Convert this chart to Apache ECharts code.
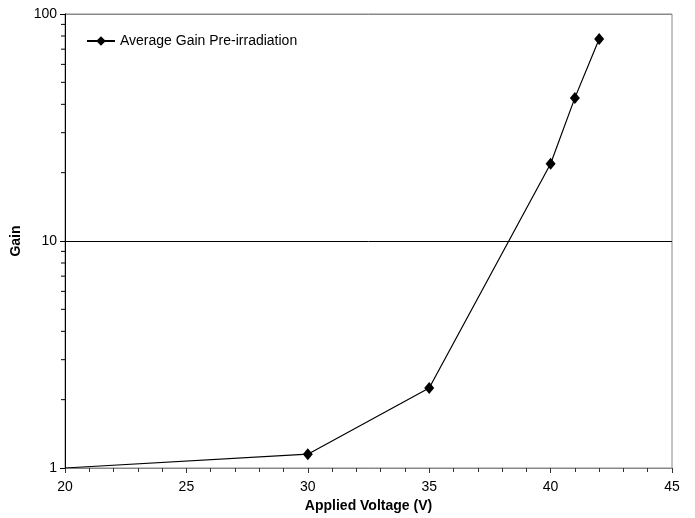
<!DOCTYPE html>
<html>
<head>
<meta charset="utf-8">
<script src="https://cdn.jsdelivr.net/npm/echarts@6/dist/echarts.min.js"></script>
<style>html,body{margin:0;padding:0;background:#fff;}#c{width:695px;height:518px;}</style>
</head>
<body>
<div id="c"></div>
<script>
var seriesName = 'Average Gain Pre-irradiation';
var voltage = [20, 30, 35, 40, 41, 42];
var gain = [1.0, 1.15, 2.25, 21.9, 42.7, 77.6];
var yMinorTicks = [2, 3, 4, 5, 6, 7, 8, 9, 20, 30, 40, 50, 60, 70, 80, 90];
var xMin = 20, xMax = 45, xInterval = 5;
var yMin = 1, yMax = 100;

var FONT = '"Liberation Sans", Arial, sans-serif';
var chart = echarts.init(document.getElementById('c'));
var lineData = voltage.map(function (v, i) {
  var item = { value: [v, gain[i]] };
  if (i === 0) { item.symbolSize = 0; }
  return item;
});
chart.setOption({
  animation: false,
  backgroundColor: '#fff',
  grid: { left: 65, right: 23, top: 14, bottom: 41, show: true, borderColor: '#888', borderWidth: 1 },
  legend: {
    left: 81, top: 29, itemWidth: 28, itemHeight: 12,
    textStyle: { fontFamily: FONT, fontSize: 14, color: '#000' },
    data: [seriesName]
  },
  xAxis: {
    type: 'value', min: xMin, max: xMax, interval: xInterval,
    name: 'Applied Voltage (V)', nameLocation: 'middle', nameGap: 31,
    nameTextStyle: { fontFamily: FONT, fontSize: 14, fontWeight: 'bold', color: '#000' },
    axisLine: { lineStyle: { color: '#888', width: 1 } },
    axisTick: { show: true, length: 5, lineStyle: { color: '#333' } },
    minorTick: { show: true, splitNumber: 5, length: 4, lineStyle: { color: '#333' } },
    axisLabel: { fontFamily: FONT, fontSize: 14, color: '#000', margin: 12 },
    splitLine: { show: false }
  },
  yAxis: {
    type: 'log', logBase: 10, min: yMin, max: yMax,
    name: 'Gain', nameLocation: 'middle', nameGap: 40, nameRotate: 90,
    nameTextStyle: { fontFamily: FONT, fontSize: 14, fontWeight: 'bold', color: '#000' },
    axisLine: { show: true, lineStyle: { color: '#000', width: 1 } },
    axisTick: { show: true, length: 5, lineStyle: { color: '#000' } },
    axisLabel: { fontFamily: FONT, fontSize: 14, color: '#000', margin: 8 },
    splitLine: { show: true, lineStyle: { color: ['#888', '#000', '#888'], width: 1 } }
  },
  series: [
    {
      name: seriesName, type: 'line', data: lineData,
      symbol: 'diamond', symbolSize: [10, 12],
      lineStyle: { color: '#000', width: 1.2 },
      itemStyle: { color: '#000' },
      z: 5
    },
    {
      type: 'custom', silent: true, clip: false, z: 3,
      data: yMinorTicks.map(function (v) { return [xMin, v]; }),
      encode: { x: 0, y: 1 },
      renderItem: function (params, api) {
        var p = api.coord([api.value(0), api.value(1)]);
        return {
          type: 'line',
          shape: { x1: p[0] - 4, y1: p[1], x2: p[0], y2: p[1] },
          style: { stroke: '#000', lineWidth: 1 }
        };
      }
    }
  ]
});
</script>
</body>
</html>
